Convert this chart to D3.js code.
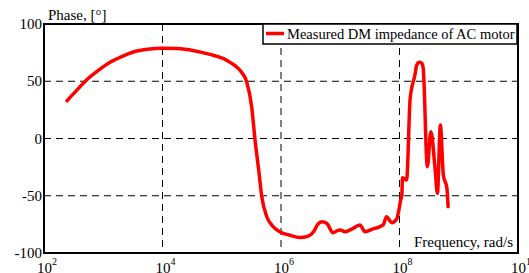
<!DOCTYPE html>
<html>
<head>
<meta charset="utf-8">
<script src="https://cdn.jsdelivr.net/npm/d3@7"></script>
<style>
body{margin:0;background:#fff}
svg text{font-family:"Liberation Serif","DejaVu Serif","Times New Roman",serif;fill:#000}
</style>
</head>
<body>
<div id="chart"></div>
<script>
// frequency in rad/s, phase in degrees
var freq = [245,355,537,851,1349,2138,3311,5623,1e4,17783,33884,63096,109648,138038,177828,218776,263027,319890,363078,426580,472063,575440,707946,954993,
	1.413e6,2.089e6,2.818e6,3.548e6,4.169e6,4.898e6,5.888e6,7.586e6,8.913e6,1e7,1.202e7,1.585e7,2.138e7,2.63e7,3.548e7,4.677e7,5.37e7,6.026e7,7.413e7,8.913e7,9.55e7,
	1.047e8,1.096e8,1.122e8,1.318e8,1.514e8,1.82e8,1.95e8,2.138e8,2.37e8,2.512e8,2.951e8,3.388e8,3.981e8,4.365e8,4.898e8,5.495e8,6.31e8,6.607e8]
var phase = [33,42,51.7,60,67,72,75.8,78,78.8,78.5,76.7,73.5,69.5,66.5,62.5,57.5,49.6,27.8,-0.4,-30.4,-50.2,-68.3,-76,-81.4,
	-84.5,-86.5,-85.5,-81.4,-75,-72.7,-74,-82.3,-80.5,-80,-81.4,-79,-75.5,-81.4,-79,-77,-75,-68.3,-73.5,-70.5,-65,
	-53.7,-49.3,-34.2,-36.2,35,55.5,64,66.5,65.7,61.3,-24.6,6,-26,-47.9,11.8,-31.9,-43.5,-59.6]
var xTicks = [1e2,1e4,1e6,1e8,1e10]
var yTicks = [-100,-50,0,50,100]
var seriesName = "Measured DM impedance of AC motor"

var W = 529, H = 273
var m = {l:44,r:11,t:24,b:20}

var svg = d3.select("#chart").append("svg").attr("width",W).attr("height",H)
	.style("font-family","'Liberation Serif','DejaVu Serif',serif")

var x = d3.scaleLog().domain([1e2,1e10]).range([m.l,W-m.r])
var y = d3.scaleLinear().domain([-100,100]).range([H-m.b,m.t])

// grid
var g = svg.append("g")
g.selectAll(".vg").data(xTicks.slice(1,-1)).enter().append("line")
	.attr("x1",function(d){return x(d)}).attr("x2",function(d){return x(d)})
	.attr("y1",y(100)).attr("y2",y(-100))
	.attr("stroke","#000").attr("stroke-width",1).attr("stroke-dasharray","7,5")
g.selectAll(".hg").data(yTicks.slice(1,-1)).enter().append("line")
	.attr("x1",x(1e2)).attr("x2",x(1e10))
	.attr("y1",function(d){return y(d)}).attr("y2",function(d){return y(d)})
	.attr("stroke","#000").attr("stroke-width",1).attr("stroke-dasharray","7,5")

// curve
var pts = freq.map(function(f,i){return [f,phase[i]]})
svg.append("path").datum(pts)
	.attr("fill","none").attr("stroke","#ff0000").attr("stroke-width",3.5)
	.attr("stroke-linejoin","round").attr("stroke-linecap","round")
	.attr("d",d3.line().x(function(d){return x(d[0])}).y(function(d){return y(d[1])}).curve(d3.curveMonotoneX))

// frame
svg.append("rect").attr("x",m.l).attr("y",m.t).attr("width",W-m.r-m.l).attr("height",H-m.b-m.t)
	.attr("fill","none").attr("stroke","#000").attr("stroke-width",2)

// y tick labels
svg.selectAll(".yl").data(yTicks).enter().append("text")
	.attr("x",m.l-2).attr("y",function(d){return y(d)+5})
	.attr("text-anchor","end")
	.style("font-size","15px").text(function(d){return d})

// x tick labels
var xl = svg.selectAll(".xl").data(xTicks).enter().append("text")
	.attr("x",function(d){return x(d)-7}).attr("y",H)
	.style("font-size","15px")
xl.append("tspan").text("10")
xl.append("tspan").attr("dy",-8).style("font-size","10px").text(function(d){return Math.round(Math.log10(d))})

// axis titles
svg.append("text").attr("x",48).attr("y",20).style("font-size","15px").text("Phase, [°]")
svg.append("text").attr("x",513).attr("y",247).attr("text-anchor","end").style("font-size","15px").text("Frequency, rad/s")

// legend
var lg = svg.append("g")
lg.append("rect").attr("x",263).attr("y",24).attr("width",254).attr("height",20)
	.attr("fill","#fff").attr("stroke","#000").attr("stroke-width",1.5)
lg.append("line").attr("x1",266).attr("x2",284).attr("y1",33.5).attr("y2",33.5)
	.attr("stroke","#ff0000").attr("stroke-width",3.5)
lg.append("text").attr("x",287).attr("y",39).style("font-size","14.5px").text(seriesName)
</script>
</body>
</html>
